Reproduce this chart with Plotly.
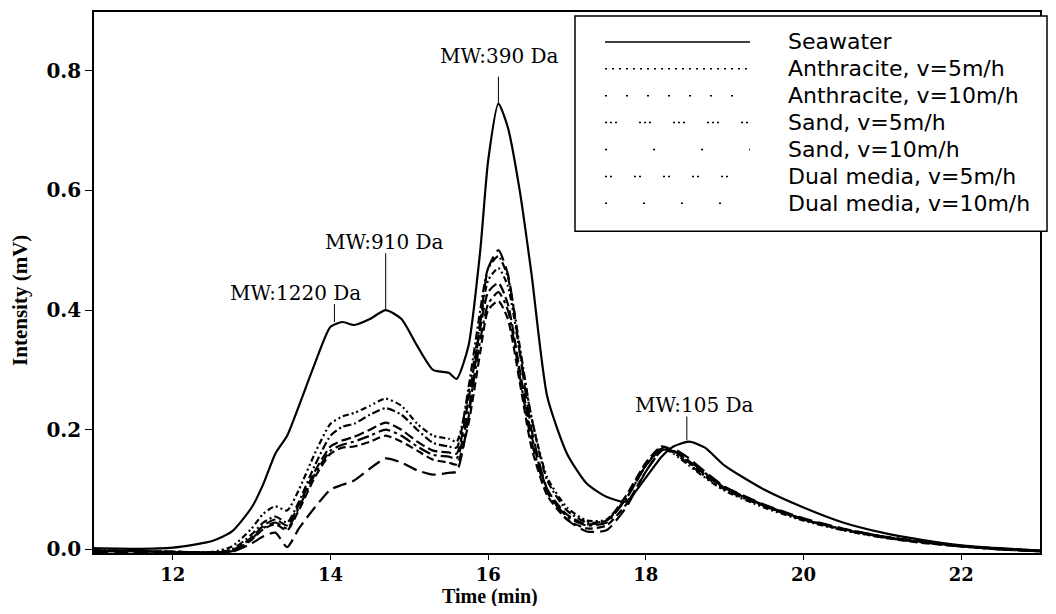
import plotly.graph_objects as go

# retention time (min)
time_min = [11.0, 11.5, 12.0, 12.5, 12.75, 13.0, 13.15, 13.3, 13.45, 13.6, 13.8, 14.0, 14.15, 14.3, 14.5,
            14.7, 14.9, 15.1, 15.3, 15.5, 15.6, 15.75, 15.9, 16.0, 16.13, 16.25, 16.4, 16.55, 16.75, 17.0,
            17.25, 17.5, 17.75, 18.0, 18.2, 18.35, 18.55, 18.75, 19.0, 19.5, 20.0, 20.5, 21.0, 21.5, 22.0,
            22.5, 23.0]

seawater = [0.002, 0.001, 0.003, 0.014, 0.03, 0.07, 0.11, 0.16, 0.19, 0.24, 0.31, 0.372, 0.38, 0.375, 0.385,
            0.40, 0.385, 0.34, 0.30, 0.295, 0.285, 0.34, 0.50, 0.65, 0.745, 0.705, 0.60, 0.46, 0.255, 0.16,
            0.11, 0.088, 0.08, 0.12, 0.155, 0.172, 0.18, 0.17, 0.14, 0.10, 0.07, 0.045, 0.028, 0.016, 0.007,
            0.002, -0.002]

anthracite_5 = [-0.002, -0.002, -0.005, -0.005, 0.0, 0.025, 0.045, 0.055, 0.045, 0.08, 0.14, 0.19, 0.205, 0.21, 0.225,
                0.236, 0.225, 0.20, 0.178, 0.172, 0.17, 0.27, 0.40, 0.47, 0.49, 0.455, 0.34, 0.22, 0.115, 0.065,
                0.045, 0.048, 0.085, 0.14, 0.17, 0.162, 0.142, 0.122, 0.10, 0.072, 0.05, 0.034, 0.022, 0.013, 0.006,
                0.001, -0.002]

anthracite_10 = [-0.003, -0.003, -0.004, -0.005, -0.002, 0.02, 0.04, 0.05, 0.04, 0.075, 0.13, 0.172, 0.182, 0.188, 0.20,
                 0.212, 0.20, 0.18, 0.165, 0.162, 0.16, 0.25, 0.37, 0.43, 0.445, 0.41, 0.30, 0.19, 0.10, 0.058,
                 0.042, 0.048, 0.09, 0.145, 0.172, 0.165, 0.145, 0.125, 0.102, 0.073, 0.05, 0.033, 0.021, 0.012, 0.005,
                 0.0, -0.003]

sand_5 = [0.0, -0.003, -0.004, -0.004, 0.005, 0.035, 0.06, 0.072, 0.065, 0.10, 0.16, 0.21, 0.222, 0.228, 0.24,
          0.252, 0.24, 0.21, 0.19, 0.185, 0.18, 0.26, 0.38, 0.45, 0.47, 0.44, 0.33, 0.22, 0.12, 0.07,
          0.048, 0.05, 0.085, 0.14, 0.168, 0.16, 0.14, 0.12, 0.098, 0.07, 0.048, 0.032, 0.02, 0.012, 0.006,
          0.001, -0.003]

sand_10 = [-0.002, -0.003, -0.004, -0.005, -0.002, 0.018, 0.036, 0.045, 0.035, 0.07, 0.125, 0.165, 0.175, 0.18, 0.19,
           0.20, 0.19, 0.172, 0.158, 0.155, 0.152, 0.23, 0.35, 0.41, 0.43, 0.40, 0.29, 0.18, 0.095, 0.055,
           0.04, 0.045, 0.085, 0.14, 0.168, 0.165, 0.148, 0.128, 0.104, 0.074, 0.051, 0.034, 0.021, 0.012, 0.005,
           0.0, -0.003]

dual_5 = [-0.003, -0.003, -0.004, -0.005, -0.003, 0.016, 0.034, 0.042, 0.032, 0.066, 0.12, 0.16, 0.17, 0.172, 0.18,
          0.19, 0.18, 0.165, 0.15, 0.145, 0.142, 0.21, 0.33, 0.40, 0.415, 0.385, 0.28, 0.17, 0.09, 0.05,
          0.035, 0.04, 0.075, 0.13, 0.165, 0.164, 0.147, 0.127, 0.103, 0.073, 0.05, 0.033, 0.02, 0.011, 0.005,
          0.0, -0.003]

dual_10 = [-0.004, -0.005, -0.005, -0.006, -0.004, 0.01, 0.022, 0.028, 0.004, 0.035, 0.07, 0.10, 0.108, 0.115, 0.135,
           0.152, 0.145, 0.132, 0.125, 0.128, 0.13, 0.22, 0.38, 0.47, 0.50, 0.46, 0.33, 0.20, 0.10, 0.05,
           0.03, 0.032, 0.07, 0.13, 0.165, 0.168, 0.152, 0.13, 0.105, 0.075, 0.052, 0.035, 0.022, 0.013, 0.006,
           0.001, -0.002]

series_names = ["Seawater", "Anthracite, v=5m/h", "Anthracite, v=10m/h", "Sand, v=5m/h",
                "Sand, v=10m/h", "Dual media, v=5m/h", "Dual media, v=10m/h"]
series_values = [seawater, anthracite_5, anthracite_10, sand_5, sand_10, dual_5, dual_10]

# peak labels
peak_text = ["MW:1220 Da", "MW:910 Da", "MW:390 Da", "MW:105 Da"]
peak_x = [14.05, 14.7, 16.13, 18.52]
peak_y = [0.38, 0.40, 0.745, 0.182]
peak_top = [0.41, 0.495, 0.79, 0.222]
label_x = [13.55, 14.69, 16.15, 18.62]
label_y = [0.428, 0.513, 0.825, 0.242]

# line styles: how the curves look in the plot, and how the key samples look
curve_dash = ["solid", "8px,3px,2px,3px", "10px,4px", "6px,3px,2px,3px,2px,3px",
              "12px,4px,3px,4px", "8px,4px", "14px,6px"]
key_dash = ["solid", "2px,5px", "2px,19px", "2px,3px,2px,3px,2px,22px",
            "2px,46px", "2px,3px,2px,22px", "2px,36px"]

# page geometry (the page body adds an 8px offset)
OFF = 8
FIG_W, FIG_H = 1040, 598
M_L, M_R, M_T, M_B = 86, 8, 2, 53
PL = M_L + OFF
PW = FIG_W - M_L - M_R
PT = M_T + OFF
PH = FIG_H - M_T - M_B


def px(x):
    return (x - PL) / PW


def py(y):
    return (PT + PH - y) / PH


fig = go.Figure()
for name, vals, dash in zip(series_names, series_values, curve_dash):
    fig.add_trace(go.Scatter(
        x=time_min, y=vals, name=name, mode="lines",
        line=dict(color="black", width=2.2, dash=dash, shape="spline", smoothing=0.6),
    ))

for t, xx, yy, yt, lx, ly in zip(peak_text, peak_x, peak_y, peak_top, label_x, label_y):
    fig.add_shape(type="line", x0=xx, x1=xx, y0=yy, y1=yt, xref="x", yref="y",
                  line=dict(color="black", width=1))
    fig.add_annotation(x=lx, y=ly, text=t, showarrow=False, xanchor="center", yanchor="middle",
                       font=dict(family="DejaVu Serif", size=20, color="black"))

# key box
fig.add_shape(type="rect", xref="paper", yref="paper", x0=px(575), x1=px(1047), y0=py(230), y1=py(14),
              line=dict(color="black", width=1.5), fillcolor="white", layer="above")
for i, (name, dash) in enumerate(zip(series_names, key_dash)):
    row = 40 + 27 * i
    fig.add_shape(type="line", xref="paper", yref="paper", x0=px(605), x1=px(750), y0=py(row), y1=py(row),
                  line=dict(color="black", width=1.5, dash=dash), layer="above")
    fig.add_annotation(xref="paper", yref="paper", x=px(786), y=py(row), text=name, showarrow=False,
                       xanchor="left", yanchor="middle",
                       font=dict(family="DejaVu Sans", size=22, color="black"))

# axis titles
fig.add_annotation(xref="paper", yref="paper", x=px(20), y=py(300), text="<b>Intensity (mV)</b>",
                   textangle=-90, showarrow=False, xanchor="center", yanchor="middle",
                   font=dict(family="Liberation Serif", size=21, color="black"))
fig.add_annotation(xref="paper", yref="paper", x=px(490), y=py(597), text="<b>Time (min)</b>",
                   showarrow=False, xanchor="center", yanchor="middle",
                   font=dict(family="Liberation Serif", size=20, color="black"))

fig.update_layout(
    width=FIG_W, height=FIG_H,
    margin=dict(l=M_L, r=M_R, t=M_T, b=M_B),
    plot_bgcolor="white", paper_bgcolor="white",
    showlegend=False,
)
fig.update_xaxes(
    range=[11, 23], tickvals=[12, 14, 16, 18, 20, 22], ticks="outside", ticklen=5,
    tickcolor="black", showline=True, linecolor="black", linewidth=1.5, mirror=True,
    showgrid=False, zeroline=False,
    tickfont=dict(family="DejaVu Serif", size=18, color="black", weight="bold"),
)
fig.update_yaxes(
    range=[-0.006, 0.898], tickvals=[0, 0.2, 0.4, 0.6, 0.8], tickformat=".1f", ticks="outside", ticklen=7,
    tickcolor="black", showline=True, linecolor="black", linewidth=1.5, mirror=True,
    showgrid=False, zeroline=False,
    tickfont=dict(family="DejaVu Serif", size=20, color="black", weight="bold"),
)

fig.write_html("out.html")
